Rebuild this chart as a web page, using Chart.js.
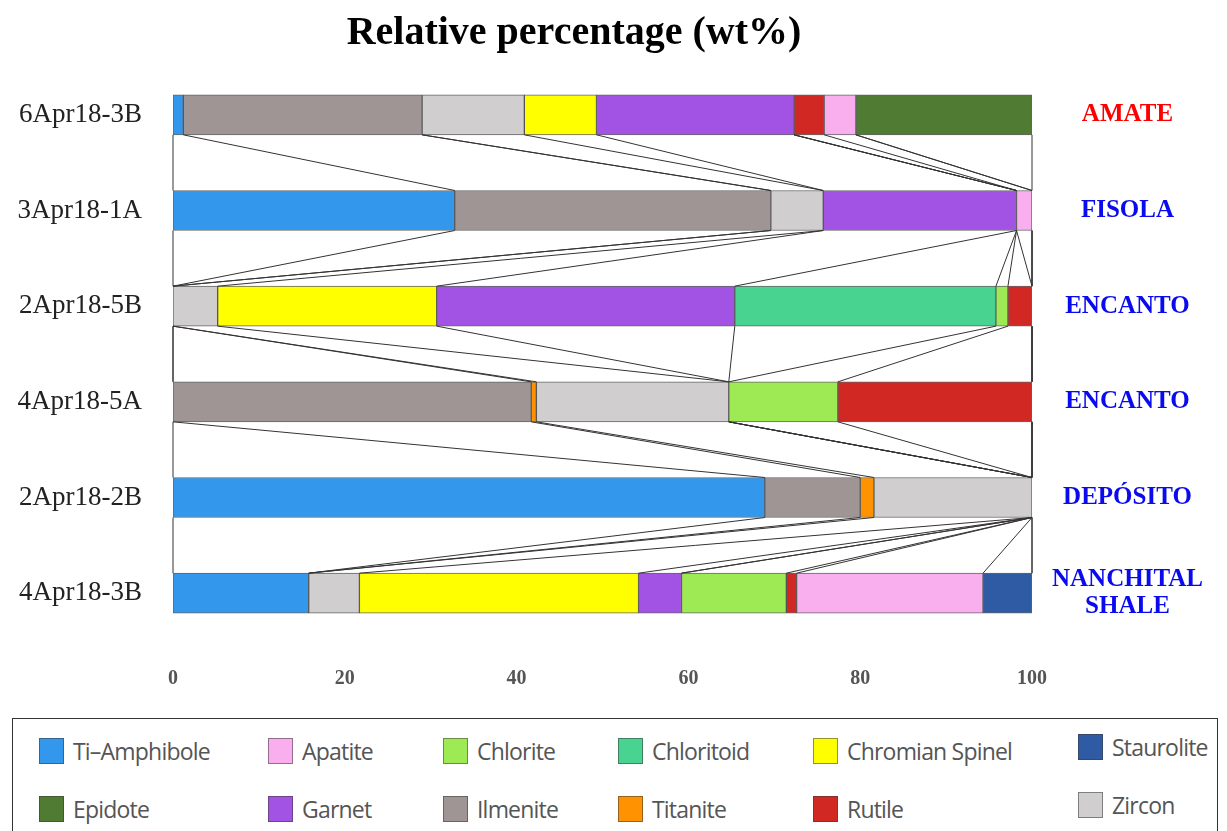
<!DOCTYPE html>
<html>
<head>
<meta charset="utf-8">
<script src="https://cdn.jsdelivr.net/npm/chart.js@4/dist/chart.umd.min.js"></script>
<style>
  html, body { margin: 0; padding: 0; background: #fff; }
  #wrap { position: relative; width: 1227px; height: 831px; overflow: hidden; }
  #chart { position: absolute; left: 0; top: 0; }
  #legend {
    position: absolute; left: 12px; top: 718px; width: 1206px; height: 140px;
    border: 1.5px solid #333; box-sizing: border-box;
  }
  .item { position: absolute; display: flex; align-items: center; height: 30px;
    font-family: "Open Sans", sans-serif; font-size: 23px; color: #555; letter-spacing: -0.8px; white-space: nowrap; }
  .sw { width: 25px; height: 26px; box-sizing: border-box; border: 1.5px solid rgba(60,60,60,0.55); margin-right: 9px; }
</style>
</head>
<body>
<div id="wrap">
  <canvas id="chart" width="1227" height="700"></canvas>
  <div id="legend"></div>
</div>
<script>
// Samples (top to bottom) and their formations
const samples = ['6Apr18-3B', '3Apr18-1A', '2Apr18-5B', '4Apr18-5A', '2Apr18-2B', '4Apr18-3B'];
const formations = ['AMATE', 'FISOLA', 'ENCANTO', 'ENCANTO', 'DEPÓSITO', ['NANCHITAL', 'SHALE']];
const xTicks = [0, 20, 40, 60, 80, 100];

// Relative percentage (wt%) of each mineral per sample, in stacking order
const tiAmphibole    = [1.2, 32.8, 0, 0, 68.9, 15.8];
const ilmenite       = [27.8, 36.8, 0, 41.7, 11.1, 0];
const titanite       = [0, 0, 0, 0.6, 1.6, 0];
const zircon         = [11.9, 6.1, 5.2, 22.4, 18.4, 5.9];
const chromianSpinel = [8.4, 0, 25.5, 0, 0, 32.5];
const garnet         = [23.0, 22.5, 34.7, 0, 0, 5.0];
const chloritoid     = [0, 0, 30.4, 0, 0, 0];
const chlorite       = [0, 0, 1.4, 12.7, 0, 12.2];
const rutile         = [3.5, 0, 2.8, 22.6, 0, 1.2];
const apatite        = [3.7, 1.8, 0, 0, 0, 21.7];
const staurolite     = [0, 0, 0, 0, 0, 5.7];
const epidote        = [20.5, 0, 0, 0, 0, 0];

const minerals = [
  { name: 'Ti–Amphibole',    values: tiAmphibole,    color: '#3398ec' },
  { name: 'Ilmenite',        values: ilmenite,       color: '#a09595' },
  { name: 'Titanite',        values: titanite,       color: '#ff9200' },
  { name: 'Zircon',          values: zircon,         color: '#d0cece' },
  { name: 'Chromian Spinel', values: chromianSpinel, color: '#ffff00' },
  { name: 'Garnet',          values: garnet,         color: '#a353e3' },
  { name: 'Chloritoid',      values: chloritoid,     color: '#48d490' },
  { name: 'Chlorite',        values: chlorite,       color: '#9eea55' },
  { name: 'Rutile',          values: rutile,         color: '#d22823' },
  { name: 'Apatite',         values: apatite,        color: '#f9aeee' },
  { name: 'Staurolite',      values: staurolite,     color: '#2f5aa4' },
  { name: 'Epidote',         values: epidote,        color: '#4f7b33' }
];

// Legend layout: columns and rows of the boxed key
const legendRows = [
  ['Ti–Amphibole', 'Apatite', 'Chlorite', 'Chloritoid', 'Chromian Spinel', 'Staurolite'],
  ['Epidote', 'Garnet', 'Ilmenite', 'Titanite', 'Rutile', 'Zircon']
];
const legendCols = [26, 255, 430, 605, 800, 1065];

// Lines joining the boundaries of each mineral between consecutive samples
const connectorPlugin = {
  id: 'connectors',
  afterDatasetsDraw(chart) {
    const { ctx } = chart;
    const xs = chart.scales.x;
    const bars = chart.getDatasetMeta(0).data;
    ctx.save();
    ctx.strokeStyle = '#333';
    ctx.lineWidth = 1;
    for (let i = 0; i < samples.length - 1; i++) {
      const yTop = bars[i].y + bars[i].height / 2;
      const yBot = bars[i + 1].y - bars[i + 1].height / 2;
      let cumA = 0, cumB = 0;
      const pairs = [[0, 0]];
      minerals.forEach(m => {
        cumA += m.values[i];
        cumB += m.values[i + 1];
        pairs.push([cumA, cumB]);
      });
      pairs.forEach(([a, b]) => {
        ctx.beginPath();
        ctx.moveTo(xs.getPixelForValue(a), yTop);
        ctx.lineTo(xs.getPixelForValue(b), yBot);
        ctx.stroke();
      });
    }
    ctx.restore();
  }
};

const titlePlugin = {
  id: 'heading',
  afterDraw(chart) {
    const { ctx } = chart;
    ctx.save();
    ctx.font = 'bold 40px "Liberation Serif", serif';
    ctx.fillStyle = '#000';
    ctx.textAlign = 'center';
    ctx.textBaseline = 'alphabetic';
    ctx.fillText('Relative percentage (wt%)', 574, 44);
    ctx.restore();
  }
};

new Chart(document.getElementById('chart'), {
  type: 'bar',
  data: {
    labels: samples,
    datasets: minerals.map(m => ({
      label: m.name,
      data: m.values.map(v => (v > 0 ? v : null)),
      backgroundColor: m.color,
      borderColor: 'rgba(50,50,50,0.75)',
      borderWidth: 1,
      borderSkipped: false,
      barThickness: 40
    }))
  },
  options: {
    indexAxis: 'y',
    responsive: false,
    animation: false,
    layout: { padding: { top: 67, left: 0, right: 0, bottom: 0 } },
    plugins: { legend: { display: false }, tooltip: { enabled: false } },
    scales: {
      x: {
        stacked: true, min: 0, max: 100,
        afterBuildTicks: s => { s.ticks = xTicks.map(v => ({ value: v })); },
        afterFit: s => { s.height = 59; },
        grid: { display: false }, border: { display: false },
        ticks: { padding: 18, color: '#555', font: { family: '"Liberation Serif", serif', size: 20, weight: 'bold' } }
      },
      y: {
        stacked: true,
        afterFit: s => { s.width = 173; },
        grid: { display: false, drawTicks: false }, border: { display: false },
        ticks: { padding: 31, color: '#222', font: { family: '"Liberation Serif", serif', size: 27 } }
      },
      y2: {
        type: 'category', position: 'right', labels: formations, offset: true,
        afterFit: s => { s.width = 195; },
        grid: { display: false, drawTicks: false }, border: { display: false },
        ticks: {
          padding: 20, crossAlign: 'center',
          color: c => (c.index === 0 ? '#ff0000' : '#0a0aee'),
          font: { family: '"Liberation Serif", serif', size: 25, weight: 'bold', lineHeight: 1.05 }
        }
      }
    }
  },
  plugins: [connectorPlugin, titlePlugin]
});

// Boxed key
const legendEl = document.getElementById('legend');
legendRows.forEach((row, r) => {
  row.forEach((name, c) => {
    const m = minerals.find(x => x.name === name);
    const it = document.createElement('div');
    it.className = 'item';
    it.style.left = legendCols[c] + 'px';
    const lastCol = c === legendCols.length - 1;
    it.style.top = (r === 0 ? 17 : 75) - (lastCol ? 4 : 0) + 'px';
    const sw = document.createElement('span');
    sw.className = 'sw';
    sw.style.background = m.color;
    const tx = document.createElement('span');
    tx.textContent = name;
    it.appendChild(sw);
    it.appendChild(tx);
    legendEl.appendChild(it);
  });
});
</script>
</body>
</html>
